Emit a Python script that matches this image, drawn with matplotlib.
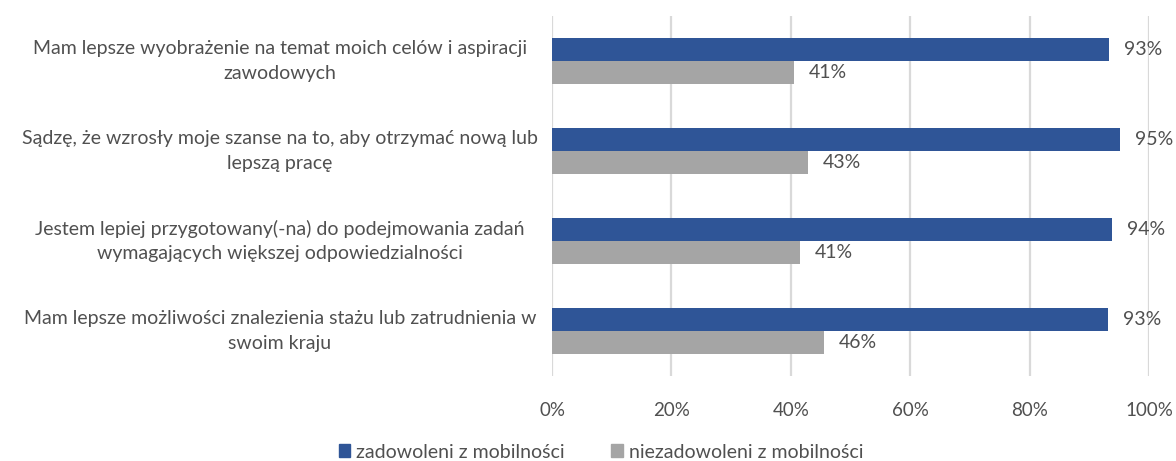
import matplotlib
matplotlib.use("Agg")
import matplotlib.pyplot as plt
from matplotlib.patches import Patch

categories = [
    "Mam lepsze wyobrażenie na temat moich celów i aspiracji\nzawodowych",
    "Sądzę, że wzrosły moje szanse na to, aby otrzymać nową lub\nlepszą pracę",
    "Jestem lepiej przygotowany(-na) do podejmowania zadań\nwymagających większej odpowiedzialności",
    "Mam lepsze możliwości znalezienia stażu lub zatrudnienia w\nswoim kraju",
]
satisfied = [93.3, 95.1, 93.8, 93.1]
dissatisfied = [40.5, 42.9, 41.5, 45.6]
sat_labels = ["93%", "95%", "94%", "93%"]
dis_labels = ["41%", "43%", "41%", "46%"]
series_names = ["zadowoleni z mobilności", "niezadowoleni z mobilności"]
xticks = [0, 20, 40, 60, 80, 100]

BLUE = "#2F5597"
GRAY = "#A5A5A5"
TXT = "#505050"
FONT = "Lato"
FS = 14

W, H = 1176, 461
fig = plt.figure(figsize=(W / 100, H / 100), dpi=100)
ax = fig.add_axes([552 / W, 1 - 376 / H, (1149 - 552) / W, 360 / H])

n = len(categories)
pos = list(range(n))
bh = 0.255
ax.barh([p - bh / 2 for p in pos], satisfied, height=bh, color=BLUE, zorder=3)
ax.barh([p + bh / 2 for p in pos], dissatisfied, height=bh, color=GRAY, zorder=3)

for p, v, lab in zip(pos, satisfied, sat_labels):
    ax.text(v + 2.5, p - bh / 2, lab, va="center", ha="left", fontsize=FS, color=TXT, family=FONT)
for p, v, lab in zip(pos, dissatisfied, dis_labels):
    ax.text(v + 2.5, p + bh / 2, lab, va="center", ha="left", fontsize=FS, color=TXT, family=FONT)

ax.set_xlim(0, 100)
ax.set_ylim(n - 0.5, -0.5)
ax.set_xticks(xticks)
ax.set_xticklabels([f"{t}%" for t in xticks], fontsize=13.5, color=TXT, family=FONT)
ax.set_yticks([])
ax.tick_params(axis="x", length=0, pad=19)
ax.grid(axis="x", color="#D9D9D9", linewidth=1.6, zorder=0)
for s in ax.spines.values():
    s.set_visible(False)

for p, cat in zip(pos, categories):
    ax.annotate(cat, xy=(280 / W, 0), xycoords=("figure fraction", "data"),
                xytext=(280 / W, p), textcoords=("figure fraction", "data"),
                ha="center", va="center", fontsize=FS, color=TXT, family=FONT,
                linespacing=1.55)

handles = [Patch(color=BLUE), Patch(color=GRAY)]
fig.legend(handles, series_names, loc="center", bbox_to_anchor=(601 / W, 1 - 452 / H),
           ncol=2, frameon=False, labelcolor=TXT,
           prop={"family": FONT, "size": FS}, handlelength=0.6, handleheight=0.6,
           handletextpad=0.3, columnspacing=2.4)

fig.savefig("out.png", dpi=100)
